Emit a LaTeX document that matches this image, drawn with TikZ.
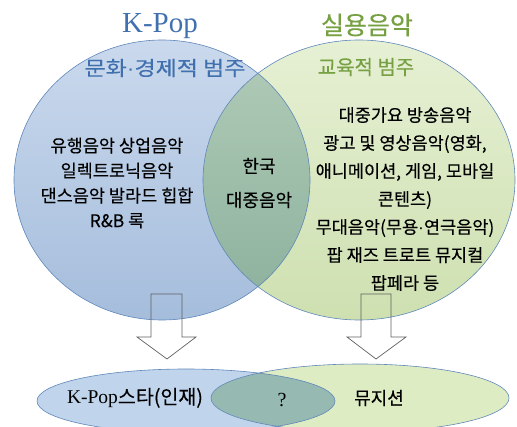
\documentclass[tikz,border=0pt]{standalone}
\usepackage{fontspec}
\setmainfont{Noto Sans CJK KR}[FakeBold=0.3]
\newfontfamily\serfont{Liberation Serif}
\newfontfamily\dotfont{Liberation Sans}
\newcommand{\mdot}{{\dotfont ·}}
\definecolor{bborder}{RGB}{95,135,185}
\definecolor{btop}{RGB}{202,217,237}
\definecolor{bbot}{RGB}{165,189,220}
\definecolor{gtop}{RGB}{230,240,212}
\definecolor{gbot}{RGB}{206,224,176}
\definecolor{otop}{RGB}{178,204,184}
\definecolor{obot}{RGB}{138,176,156}
\definecolor{titleblue}{RGB}{65,112,175}
\definecolor{titlegreen}{RGB}{118,160,66}
\definecolor{arrowgray}{RGB}{95,95,95}
\definecolor{lbfill}{RGB}{192,212,236}
\definecolor{lgfill}{RGB}{222,236,196}
\definecolor{lofill}{RGB}{150,186,178}
\begin{document}
\begin{tikzpicture}[x=1pt,y=-1pt,
  outline/.style={draw=bborder,line width=0.6pt},
  blockarrow/.style={draw=arrowgray,line width=0.7pt,line join=miter},
  bodytext/.style={align=center,text=black,inner sep=0pt},
]
\useasboundingbox (0,0) rectangle (517,427);
\clip (0,0) rectangle (517,427);
% big circles
\shade[top color=btop,bottom color=bbot] (162,180) ellipse [x radius=148,y radius=140];
\shade[top color=gtop,bottom color=gbot] (359,180) ellipse [x radius=156,y radius=140];
\begin{scope}
  \clip (162,180) ellipse [x radius=148,y radius=140];
  \shade[top color=otop,bottom color=obot] (359,180) ellipse [x radius=156,y radius=140];
\end{scope}
\draw[outline] (162,180) ellipse [x radius=148,y radius=140];
\draw[outline] (359,180) ellipse [x radius=156,y radius=140];
% bottom ellipses
\fill[lbfill] (186,401) ellipse [x radius=149,y radius=32];
\fill[lgfill] (360,398) ellipse [x radius=149,y radius=34];
\begin{scope}
  \clip (186,401) ellipse [x radius=149,y radius=32];
  \fill[lofill] (360,398) ellipse [x radius=149,y radius=34];
\end{scope}
\draw[outline] (186,401) ellipse [x radius=149,y radius=32];
\draw[outline] (360,398) ellipse [x radius=149,y radius=34];
% block arrows
\draw[blockarrow] (151,294) -- (182,294) -- (182,337) -- (196,337) -- (167,359) -- (137,337) -- (151,337) -- cycle;
\draw[blockarrow] (361,294) -- (391,294) -- (391,337) -- (406,337) -- (376,359) -- (347,337) -- (361,337) -- cycle;
% titles
\node[text=titleblue,inner sep=0pt,font=\serfont\fontsize{29}{30}\selectfont] (kpop) at (160,26) {K-Pop};
\node[text=titlegreen,inner sep=0pt,font=\fontsize{25}{26}\selectfont] (silyong) at (367,25) {실용음악};
\node[text=titleblue,inner sep=0pt,font=\fontsize{20}{22}\selectfont] (munhwa) at (165,68) {\scalebox{1.15}[1]{문화\mdot 경제적 범주}};
\node[text=titlegreen,inner sep=0pt,font=\fontsize{20}{22}\selectfont] (gyoyuk) at (366,67) {교육적 범주};
% body texts
\node[bodytext,font=\fontsize{17.5}{25}\selectfont] (left) at (117,183) {유행음악 상업음악\\일렉트로닉음악\\댄스음악 발라드 힙합\\R\&B 록};
\node[bodytext,font=\fontsize{18}{34}\selectfont] (mid) at (259,183) {한국\\대중음악};
\node[bodytext,font=\fontsize{17.5}{28}\selectfont] (right) at (405,199) {대중가요 방송음악\\광고 및 영상음악(영화,\\애니메이션, 게임, 모바일\\콘텐츠)\\무대음악(무용\mdot 연극음악)\\팝 재즈 트로트 뮤지컬\\팝페라 등};
% bottom texts
\node[bodytext,font=\fontsize{19.5}{22}\selectfont] (star) at (135,398) {{\serfont K-Pop}스타(인재)};
\node[bodytext,font=\serfont\fontsize{20}{22}\selectfont] (q) at (282,400) {?};
\node[bodytext,font=\fontsize{18}{22}\selectfont] (musician) at (379,398) {뮤지션};
\end{tikzpicture}
\end{document}
